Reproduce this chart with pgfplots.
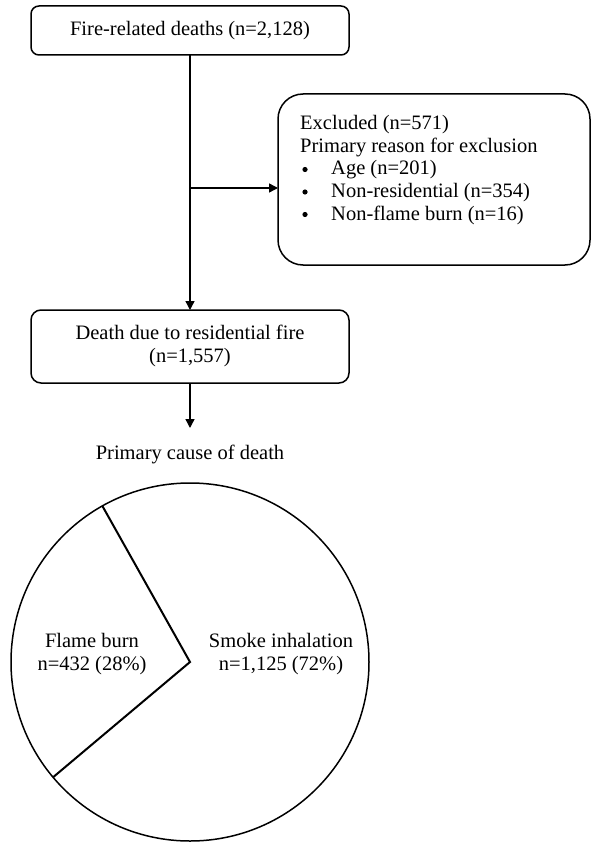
\documentclass[border=0pt]{standalone}
\usepackage{fontspec}
\setmainfont{Liberation Serif}
\usepackage{pgfplots}
\pgfplotsset{compat=1.18}
\usetikzlibrary{arrows.meta}
\begin{document}
\begin{tikzpicture}
\begin{axis}[width=591bp, height=842bp, scale only axis,
  xmin=0, xmax=591, ymin=0, ymax=842, y dir=reverse,
  hide axis, clip=false]
\path (axis cs:0,0) rectangle (axis cs:591,842);
\tikzset{box/.style={line width=1.5bp, rounded corners=8bp},
  arr/.style={line width=1.4bp, -{Triangle[length=9bp,width=9bp]}},
  txt/.style={inner sep=0pt, font=\fontsize{20.5bp}{23bp}\selectfont}}
% Box 1
\draw[box] (axis cs:31,6) rectangle (axis cs:349,55);
\node[txt, anchor=base] at (axis cs:190,36) {Fire-related deaths (n=2,128)};
% vertical line and arrows
\draw[arr] (axis cs:190,55) -- (axis cs:190,310);
\draw[arr] (axis cs:190,188) -- (axis cs:278,188);
% Box 2
\draw[box, rounded corners=25bp] (axis cs:278,94) rectangle (axis cs:590,265);
\node[txt, anchor=base west] at (axis cs:300,130) {Excluded (n=571)};
\node[txt, anchor=base west] at (axis cs:300,152.5) {Primary reason for exclusion};
\fill (axis cs:305,169.5) circle [radius=2.6];
\node[txt, anchor=base west] at (axis cs:331,175) {Age (n=201)};
\fill (axis cs:305,192) circle [radius=2.6];
\node[txt, anchor=base west] at (axis cs:331,197.5) {Non-residential (n=354)};
\fill (axis cs:305,214.5) circle [radius=2.6];
\node[txt, anchor=base west] at (axis cs:331,220) {Non-flame burn (n=16)};
% Box 3
\draw[box, rounded corners=10bp] (axis cs:31,310) rectangle (axis cs:349,383);
\node[txt, anchor=base] at (axis cs:190,339) {Death due to residential fire};
\node[txt, anchor=base] at (axis cs:190,362.5) {(n=1,557)};
\draw[arr] (axis cs:190,383) -- (axis cs:190,428);
\node[txt, anchor=base] at (axis cs:190,459) {Primary cause of death};
% Pie: flame burn 432 (28%), smoke inhalation 1,125 (72%)
\draw[line width=1.5bp] (axis cs:190,662) circle [radius=179];
\addplot[black, line width=2bp, mark=none] coordinates {
 (102.4,506.0) (190,662) (53.0,777.3)};
\node[txt, anchor=base] at (axis cs:92,647) {Flame burn};
\node[txt, anchor=base] at (axis cs:92,670) {n=432 (28\%)};
\node[txt, anchor=base] at (axis cs:281,647) {Smoke inhalation};
\node[txt, anchor=base] at (axis cs:281,670) {n=1,125 (72\%)};
\end{axis}
\end{tikzpicture}
\end{document}
